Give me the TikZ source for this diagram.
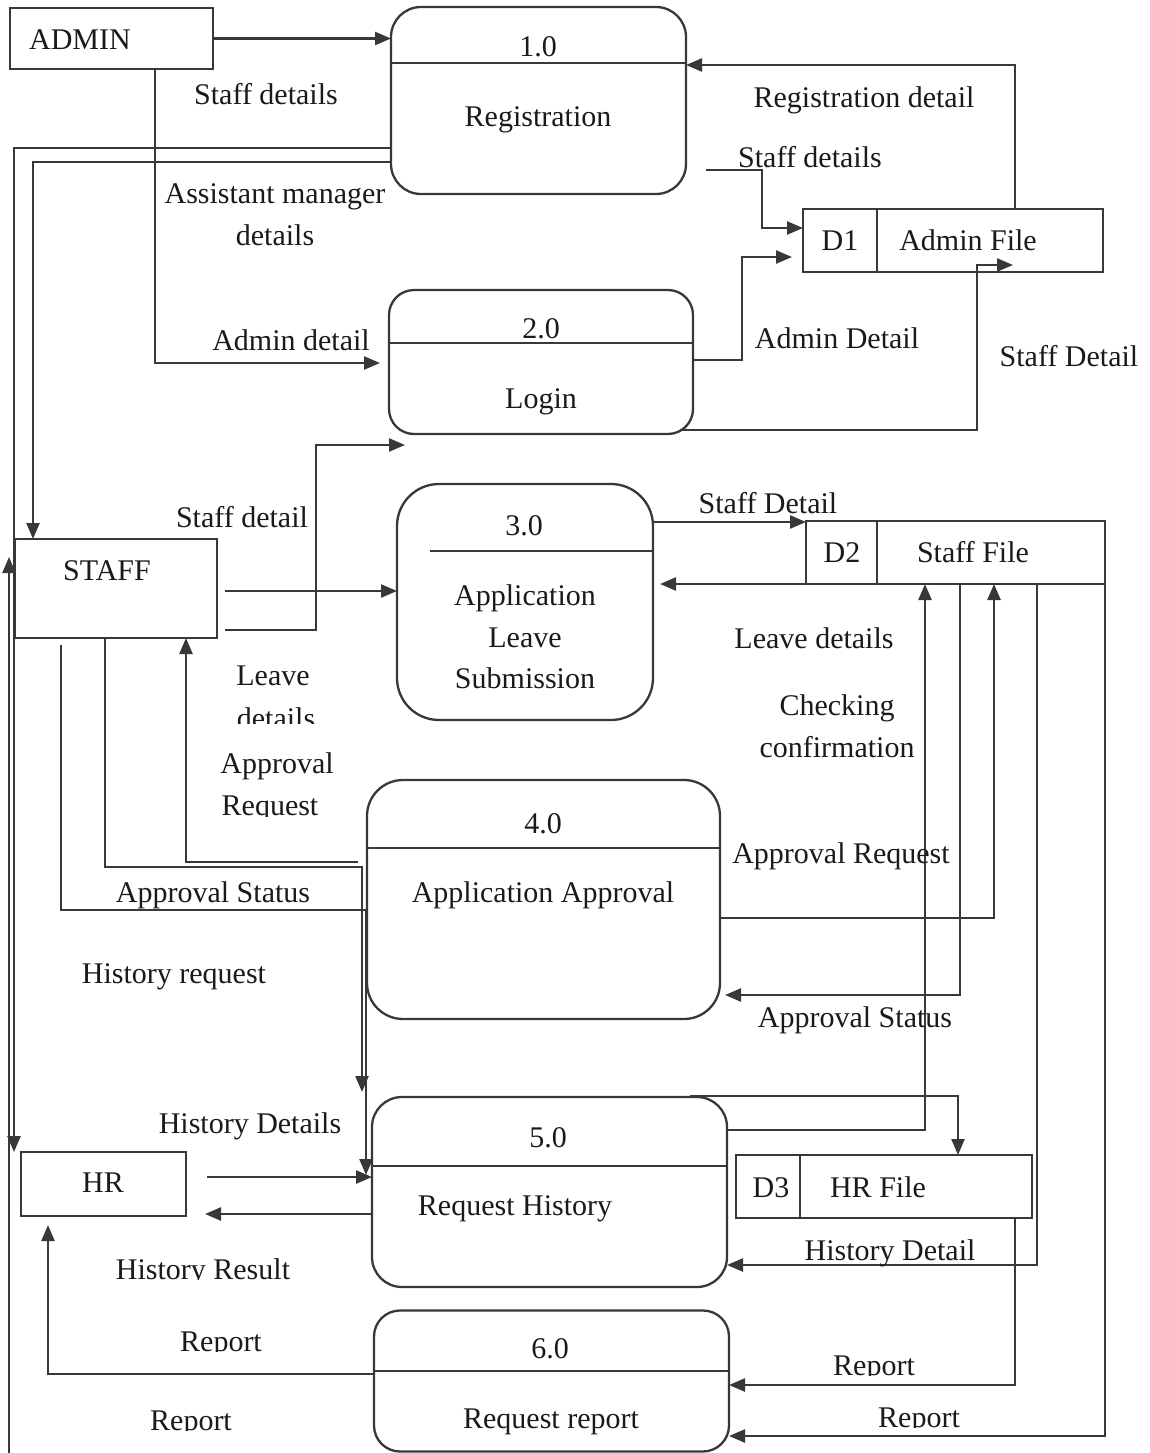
\documentclass[tikz,border=0pt]{standalone}
\usepackage{fontspec}
\setmainfont{Liberation Serif}
\usetikzlibrary{arrows.meta}
\definecolor{ink}{HTML}{383838}
\definecolor{txt}{HTML}{1A1A1A}

% label whose lower part is cut off at a given height
\newcommand\cutlbl[5]{%
  \begin{scope}
    \clip (#2-170,#3-45) rectangle (#2+170,#4);
    \node[lbl] (#1) at (#2,#3) {#5};
  \end{scope}}

\begin{document}
\begin{tikzpicture}[x=1pt,y=-1pt,
  every node/.style={inner sep=0pt,outer sep=0pt},
  proc/.style={draw=ink,line width=2.3pt,rounded corners=#1},
  proc/.default=30pt,
  ent/.style={draw=ink,line width=2.3pt},
  lbl/.style={anchor=base,text=txt,font=\fontsize{30}{34}\selectfont},
  link/.style={draw=ink,line width=2.3pt},
  flow/.style={draw=ink,line width=2.4pt,-{Triangle[length=16pt,width=13pt]}}]

\fill[white] (0,0) rectangle (1150,1453);
\useasboundingbox (0,0) rectangle (1150,1453);

% ---------- external entities ----------
\node[ent,minimum width=203pt,minimum height=61pt] (admin) at (111.5,38.5) {};
\node[ent,minimum width=202pt,minimum height=99pt] (staff) at (116,588.5) {};
\node[ent,minimum width=165pt,minimum height=64pt] (hr) at (103.5,1184) {};
\node[lbl] (admintxt) at (80,50) {ADMIN};
\node[lbl] (stafftxt) at (107,580) {STAFF};
\node[lbl] (hrtxt) at (103,1192) {HR};

% ---------- processes ----------
\node[proc,minimum width=295pt,minimum height=187pt] (p1) at (538.5,100.5) {};
\draw[link] (p1.west |- 0,63) -- (p1.east |- 0,63);
\node[lbl] (p1num) at (538,57) {1.0};
\node[lbl] (p1txt) at (538,127) {Registration};

\node[proc=25pt,minimum width=304pt,minimum height=144pt] (p2) at (541,362) {};
\draw[link] (p2.west |- 0,343) -- (p2.east |- 0,343);
\node[lbl] (p2num) at (541,338) {2.0};
\node[lbl] (p2txt) at (541,408) {Login};

\node[proc=42pt,minimum width=256pt,minimum height=236pt] (p3) at (525,602) {};
\draw[link] (430,551) -- (p3.east |- 0,551);
\node[lbl] (p3num) at (524,535) {3.0};
\node[lbl] (p3a) at (525,605) {Application};
\node[lbl] (p3b) at (525,647) {Leave};
\node[lbl] (p3c) at (525,688) {Submission};

\node[proc=36pt,minimum width=353pt,minimum height=239pt] (p4) at (543.5,899.5) {};
\draw[link] (p4.west |- 0,848) -- (p4.east |- 0,848);
\node[lbl] (p4num) at (543,833) {4.0};
\node[lbl] (p4txt) at (543,902) {Application Approval};

\node[proc,minimum width=355pt,minimum height=190pt] (p5) at (549.5,1192) {};
\draw[link] (p5.west |- 0,1166) -- (p5.east |- 0,1166);
\node[lbl] (p5num) at (548,1147) {5.0};
\node[lbl] (p5txt) at (515,1215) {Request History};

\node[proc=26pt,minimum width=355pt,minimum height=141pt] (p6) at (551.5,1381) {};
\draw[link] (p6.west |- 0,1371) -- (p6.east |- 0,1371);
\node[lbl] (p6num) at (550,1358) {6.0};
\node[lbl] (p6txt) at (551,1428) {Request report};

% ---------- data stores ----------
\node[ent,minimum width=300pt,minimum height=63pt] (d1) at (953,240.5) {};
\draw[link] (d1.north -| 877,0) -- (d1.south -| 877,0);
\node[lbl] (d1id) at (840,250) {D1};
\node[lbl] (d1txt) at (968,250) {Admin File};

\node[ent,minimum width=299pt,minimum height=63pt] (d2) at (955.5,552.5) {};
\draw[link] (d2.north -| 877,0) -- (d2.south -| 877,0);
\node[lbl] (d2id) at (842,562) {D2};
\node[lbl] (d2txt) at (973,562) {Staff File};

\node[ent,minimum width=296pt,minimum height=63pt] (d3) at (884,1186.5) {};
\draw[link] (d3.north -| 800,0) -- (d3.south -| 800,0);
\node[lbl] (d3id) at (771,1197) {D3};
\node[lbl] (d3txt) at (878,1197) {HR File};

% ---------- free ends ----------
\coordinate (regout) at (706,170);
\coordinate (loginout) at (680,430);
\coordinate (histtop) at (690,1096);
\coordinate (pagefoot) at (9,1453);

% ---------- data flows ----------
\draw[flow] (admin.east) -- (p1.west |- admin.east);
\draw[flow,shorten >=9pt] (admin.south -| 155,0) -- (155,363) -- (p2.west |- 0,363);
\draw[flow] (p1.west |- 0,148) -- (14,148) -- (hr.north -| 14,0);
\draw[flow] (p1.west |- 0,162) -- (33,162) -- (staff.north -| 33,0);
\draw[flow] (regout) -- (762,170) -- (762,228) -- (d1.west |- 0,228);
\draw[flow] (d1.north -| 1015,0) -- (1015,65) -- (p1.east |- 0,65);
\draw[flow,shorten >=11pt] (p2.east |- 0,360) -- (742,360) -- (742,257) -- (d1.west |- 0,257);
\draw[flow] (loginout) -- (977,430) -- (977,265) -- (1013,265);

\draw[flow,shorten <=8pt] (staff.east |- 0,630) -- (316,630) -- (316,445) -- (405,445);
\draw[flow,shorten <=8pt] (staff.east |- 0,591) -- (p3.west |- 0,591);
\draw[flow] (p3.east |- 0,522) -- (d2.west |- 0,522);
\draw[flow,shorten >=7pt] (d2.south west) -- (p3.east |- d2.south west);

\draw[flow,shorten <=9pt] (p4.west |- 0,862) -- (186,862) -- (staff.south -| 186,0);
\draw[flow] (staff.south -| 105,0) -- (105,867) -- (362,867) -- (362,1092);
\draw[flow,shorten <=7pt] (staff.south -| 61,0) -- (61,910) -- (366,910) -- (366,1175);
\draw[flow,shorten <=21pt] (hr.east |- 0,1177) -- (p5.west |- 0,1177);
\draw[flow,shorten >=19pt] (p5.west |- 0,1214) -- (hr.east |- 0,1214);
\draw[flow,shorten >=9pt] (p6.west |- 0,1374) -- (48,1374) -- (hr.south -| 48,0);
\draw[flow] (pagefoot) -- (9,557);

\draw[flow] (p5.east |- 0,1130) -- (925,1130) -- (d2.south -| 925,0);
\draw[flow,shorten >=5pt] (d2.south -| 960,0) -- (960,995) -- (p4.east |- 0,995);
\draw[flow] (p4.east |- 0,918) -- (994,918) -- (d2.south -| 994,0);
\draw[flow] (d2.south -| 1037,0) -- (1037,1265) -- (p5.east |- 0,1265);
\draw[flow] (d2.south east) -- (d2.south east |- 0,1436) -- (p6.east |- 0,1436);
\draw[flow] (histtop) -- (958,1096) -- (d3.north -| 958,0);
\draw[flow] (d3.south -| 1015,0) -- (1015,1385) -- (p6.east |- 0,1385);

% ---------- flow labels ----------
\node[lbl] (l1) at (266,105) {Staff details};
\node[lbl] (l2) at (275,203) {Assistant manager};
\node[lbl] (l3) at (275,245) {details};
\node[lbl] (l4) at (291,350) {Admin detail};
\node[lbl] (l5) at (864,108) {Registration detail};
\node[lbl] (l6) at (810,167) {Staff details};
\node[lbl] (l7) at (837,348) {Admin Detail};
\node[lbl] (l8) at (1069,366) {Staff Detail};
\node[lbl] (l9) at (242,527) {Staff detail};
\node[lbl] (l10) at (768,513) {Staff Detail};
\node[lbl] (l11) at (814,648) {Leave details};
\node[lbl] (l12) at (273,685) {Leave};
\cutlbl{l13}{276}{728}{723}{details}
\node[lbl] (l14) at (837,715) {Checking};
\node[lbl] (l15) at (837,757) {confirmation};
\node[lbl] (l16) at (277,773) {Approval};
\cutlbl{l17}{270}{815}{816}{Request}
\node[lbl] (l18) at (841,863) {Approval Request};
\node[lbl] (l19) at (213,902) {Approval Status};
\node[lbl] (l20) at (174,983) {History request};
\node[lbl] (l21) at (855,1027) {Approval Status};
\node[lbl] (l22) at (250,1133) {History Details};
\node[lbl] (l23) at (890,1260) {History Detail};
\cutlbl{l24}{203}{1279}{1279}{History Result}
\cutlbl{l25}{221}{1351}{1351}{Report}
\cutlbl{l26}{874}{1375}{1375}{Report}
\cutlbl{l27}{191}{1430}{1430}{Report}
\cutlbl{l28}{919}{1427}{1427}{Report}

\end{tikzpicture}
\end{document}
